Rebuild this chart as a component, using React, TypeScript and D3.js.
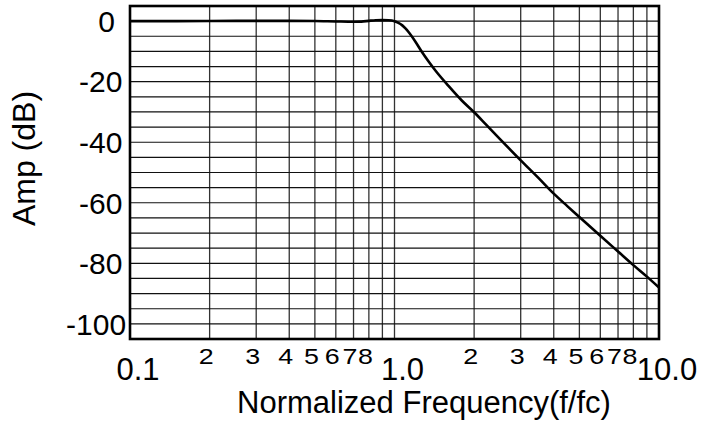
import React from "react";
import * as d3 from "d3";

// Normalized frequency (f/fc) and amplitude response
const freq = [
  0.1, 0.15, 0.2, 0.3, 0.4, 0.5, 0.6, 0.7, 0.75, 0.8, 0.85, 0.9, 0.95, 1.0,
  1.03, 1.07, 1.1, 1.13, 1.2, 1.27, 1.35, 1.43, 1.6, 1.8, 2.0, 2.22, 2.5, 3.0,
  3.5, 4.0, 4.5, 5, 6, 7, 8, 9, 10,
];
const ampDb = [
  0, 0, 0.05, 0.1, 0.1, 0.05, -0.1, -0.2, -0.15, 0.1, 0.3, 0.35, 0.3, 0, -0.5,
  -1.4, -2.4, -3.6, -6.8, -10.2, -13.5, -16.4, -21.4, -26.3, -30.1, -34.2,
  -38.9, -46, -51.8, -57, -61.1, -64.7, -70.9, -76.1, -80.6, -84.4, -88,
];

const yTickLabels = [0, -20, -40, -60, -80, -100];
const yGridLines = d3.range(-100, 1, 5);
const decadeLabels = [0.1, 1, 10];
const decadeText = ["0.1", "1.0", "10.0"];
const minorDigits = [2, 3, 4, 5, 6, 7, 8];
const minorDecades = [0.1, 1];

const W = 717;
const H = 423;
const margin = { left: 130, right: 58, top: 6, bottom: 84 };
const font = "'Liberation Sans', Arial, sans-serif";

export default function App() {
  const x = d3
    .scaleLog()
    .domain([0.1, 10])
    .range([margin.left, W - margin.right]);
  const y = d3
    .scaleLinear()
    .domain([-105, 5])
    .range([H - margin.bottom, margin.top]);

  const points: [number, number][] = freq.map((f, i) => [x(f), y(ampDb[i])]);
  const path = d3.line().curve(d3.curveMonotoneX)(points) ?? "";

  const x0 = x.range()[0];
  const x1 = x.range()[1];
  const y0 = y.range()[1];
  const y1 = y.range()[0];

  return (
    <svg
      width={W}
      height={H}
      style={{ position: "absolute", left: 0, top: 0, background: "#fff" }}
      fontFamily={font}
    >
      {/* vertical grid */}
      {x.ticks().map((t, i) => (
        <line
          key={"v" + i}
          x1={x(t)}
          x2={x(t)}
          y1={y0}
          y2={y1}
          stroke="#333"
          strokeWidth={1.3}
        />
      ))}
      {/* horizontal grid */}
      {yGridLines.map((v) => (
        <line
          key={"h" + v}
          x1={x0}
          x2={x1}
          y1={y(v)}
          y2={y(v)}
          stroke="#111"
          strokeWidth={1.2}
        />
      ))}

      {/* response curve */}
      <path d={path} fill="none" stroke="#000" strokeWidth={2.6} strokeLinejoin="round" />

      {/* frame */}
      <rect
        x={x0}
        y={y0}
        width={x1 - x0}
        height={y1 - y0}
        fill="none"
        stroke="#000"
        strokeWidth={2.6}
      />

      {/* y tick labels */}
      {yTickLabels.map((v) => {
        const s = String(v);
        return (
          <text
            key={"yl" + v}
            x={115 + (s.length - 1) * 3.7}
            y={y(v)}
            dy="0.36em"
            textAnchor="end"
            fontSize={30}
          >
            {s}
          </text>
        );
      })}

      {/* decade labels */}
      {decadeLabels.map((v, i) => (
        <text
          key={"xl" + v}
          x={x(v) + 8}
          y={380}
          textAnchor="middle"
          fontSize={31}
        >
          {decadeText[i]}
        </text>
      ))}

      {/* minor digit labels (rendered slightly wide, like the original) */}
      {minorDecades.map((d) =>
        minorDigits.map((m) => (
          <text
            key={"m" + d + m}
            transform={`translate(${x(d * m) - 3.5}, 363.5) scale(1.22, 1)`}
            textAnchor="middle"
            fontSize={22}
          >
            {m}
          </text>
        )),
      )}

      {/* axis titles */}
      <text x={424} y={413} textAnchor="middle" fontSize={31}>
        Normalized Frequency(f/fc)
      </text>
      <text
        transform={`translate(35, ${(y0 + y1) / 2 - 14}) rotate(-90)`}
        textAnchor="middle"
        fontSize={32}
      >
        Amp (dB)
      </text>
    </svg>
  );
}
